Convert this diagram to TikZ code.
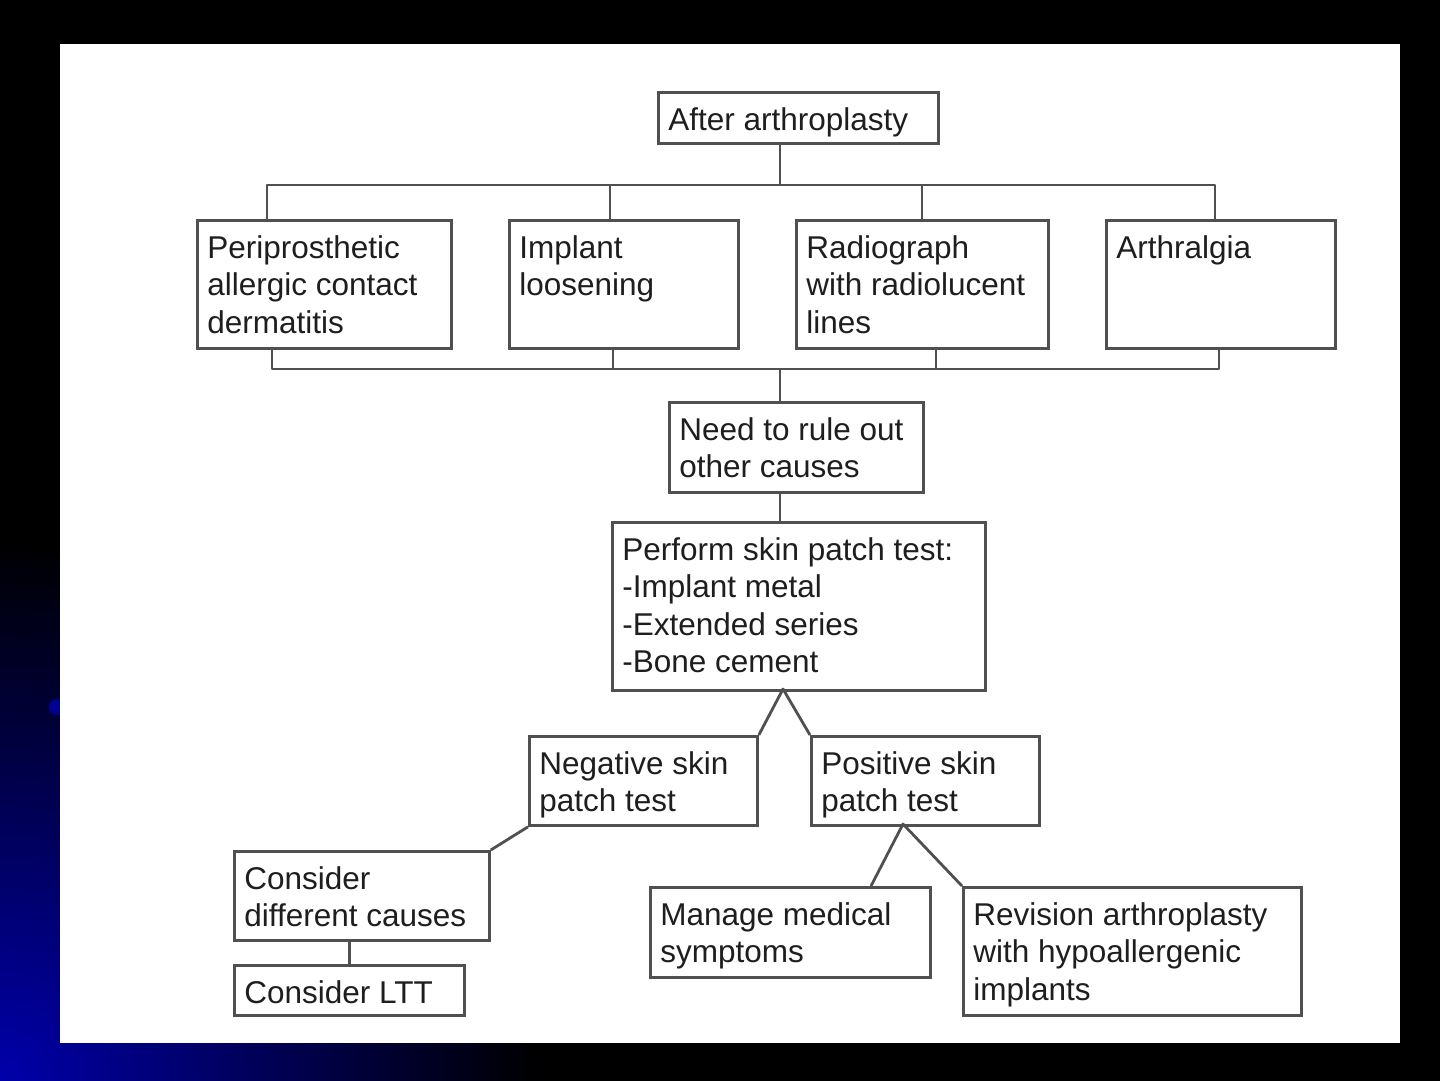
\documentclass[tikz,border=0pt]{standalone}
\usepackage{fontspec}
\setmainfont{Liberation Sans}
\usetikzlibrary{calc}
\definecolor{linegray}{RGB}{80,80,80}
\definecolor{txtgray}{RGB}{30,30,30}
\definecolor{slideblue}{RGB}{0,0,170}
\newcommand\bt[3]{\parbox[c][#2pt][t]{#1pt}{\raggedright\leftskip=10pt\relax\vspace*{11.75pt}\strut #3}}
\begin{document}
\begin{tikzpicture}[x=1pt,y=-1pt,
  box/.style={draw=linegray,line width=2.8pt,inner sep=0pt,anchor=north west,fill=white,text=txtgray,
    font=\fontsize{31.5}{37.5}\selectfont},
  link/.style={draw=linegray,line width=2.8pt,line join=round}]
\useasboundingbox (0,0) rectangle (1440,1080);
\fill[black] (-5,-5) rectangle (1445,1085);
\begin{scope}
  \clip (0,0) rectangle (1440,1080);
  \shade[inner color=slideblue, outer color=black] (0,1080) circle (540);
  \fill[slideblue!85!black] (57,707) circle (8);
\end{scope}
\fill[white] (60,44) rectangle (1400,1043);

\node[box] (after) at (657,91) {\bt{280}{51}{After arthroplasty}};
\node[box] (peri) at (196,219) {\bt{254}{128}{Periprosthetic\\allergic contact\\dermatitis}};
\node[box] (impl) at (508,219) {\bt{229}{128}{Implant\\loosening}};
\node[box] (radio) at (795,219) {\bt{252}{128}{Radiograph\\with radiolucent\\lines}};
\node[box] (arth) at (1105,219) {\bt{229}{128}{Arthralgia}};
\node[box] (need) at (668,401) {\bt{254}{90}{Need to rule out\\other causes}};
\node[box] (perf) at (611,521) {\bt{373}{168}{Perform skin patch test:\\-Implant metal\\-Extended series\\-Bone cement}};
\node[box] (neg) at (528,735) {\bt{228}{89}{Negative skin\\patch test}};
\node[box] (pos) at (810,735) {\bt{228}{89}{Positive skin\\patch test}};
\node[box] (cdc) at (233,850) {\bt{255}{89}{Consider\\different causes}};
\node[box] (ltt) at (233,964) {\bt{230}{50}{Consider LTT}};
\node[box] (mms) at (649,886) {\bt{280}{90}{Manage medical\\symptoms}};
\node[box] (rev) at (962,886) {\bt{338}{128}{Revision arthroplasty\\with hypoallergenic\\implants}};

\coordinate (tA) at (267,185);
\coordinate (tB) at (610,185);
\coordinate (tC) at (922,185);
\coordinate (tD) at (1215,185);
\coordinate (tM) at (780,185);
\draw[link] (tM |- after.south) -- (tM);
\draw[link] (tA |- peri.north) -- (tA) -- (tD) -- (tD |- arth.north);
\draw[link] (tB) -- (tB |- impl.north);
\draw[link] (tC) -- (tC |- radio.north);

\coordinate (bA) at (272,369);
\coordinate (bB) at (613,369);
\coordinate (bC) at (936,369);
\coordinate (bD) at (1219,369);
\coordinate (bM) at (780,369);
\draw[link] (bA |- peri.south) -- (bA) -- (bD) -- (bD |- arth.south);
\draw[link] (bB |- impl.south) -- (bB);
\draw[link] (bC |- radio.south) -- (bC);
\draw[link] (bM) -- (bM |- need.north);
\draw[link] (bM |- need.south) -- (bM |- perf.north);

\coordinate (pApex) at (783,689);
\draw[link] (neg.north east) -- (pApex) -- (pos.north west);
\draw[link] (neg.south west) -- (cdc.north east);
\draw[link] (ltt.north) -- (ltt.north |- cdc.south);
\coordinate (qApex) at (903,824);
\draw[link] ($(mms.north west)+(222,0)$) -- (qApex) -- (rev.north west);
\end{tikzpicture}
\end{document}
